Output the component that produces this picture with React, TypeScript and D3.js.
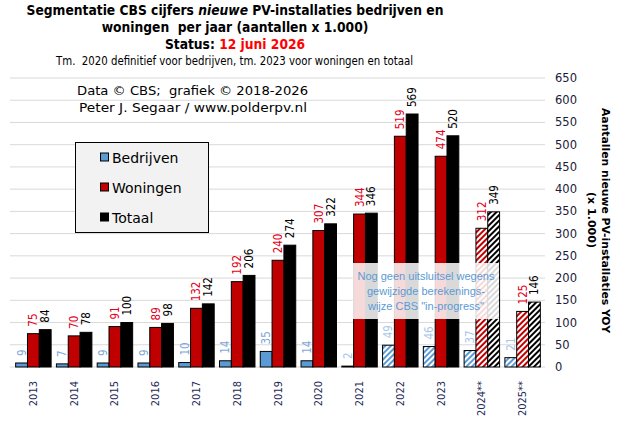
import React from "react";
import * as d3 from "d3";

const years = ["2013", "2014", "2015", "2016", "2017", "2018", "2019", "2020", "2021", "2022", "2023", "2024**", "2025**"];
const bedrijven = [9, 7, 9, 9, 10, 14, 35, 14, 2, 49, 46, 37, 21];
const woningen = [75, 70, 91, 89, 132, 192, 240, 307, 344, 519, 474, 312, 125];
const totaal = [84, 78, 100, 98, 142, 206, 274, 322, 346, 569, 520, 349, 146];
// vanaf welk jaar (index) de staaf gearceerd is (voorlopig)
const hatchFromBedrijven = 8;
const hatchFromWoningen = 11;
const yTicks = d3.range(0, 651, 50);

const W = 621;
const H = 427;

const SANS = '"DejaVu Sans", Verdana, sans-serif';
const COND = '"DejaVu Sans Condensed", "DejaVu Sans", sans-serif';

const series = [
  { key: "b", name: "Bedrijven", values: bedrijven, fill: "#5b9bd5", label: "#7ea6dc", labelHatch: "#a8c7ea", hatchFrom: hatchFromBedrijven },
  { key: "w", name: "Woningen", values: woningen, fill: "#c00000", label: "#e3001b", labelHatch: "#e3001b", hatchFrom: hatchFromWoningen },
  { key: "t", name: "Totaal", values: totaal, fill: "#000000", label: "#000000", labelHatch: "#000000", hatchFrom: hatchFromWoningen },
];

const pre = { whiteSpace: "pre" as const };

export default function App() {
  /* ───────── schalen ───────── */
  const x = d3.scaleBand<string>().domain(years).range([13, 543]).paddingInner(0.13).paddingOuter(0.065);
  const sub = d3.scaleBand<string>().domain(series.map((s) => s.key)).range([0, x.bandwidth()]);
  const y = d3.scaleLinear().domain([0, 650]).range([367, 78]);

  return (
    <svg width={W} height={H} style={{ position: "absolute", left: 0, top: 0, background: "#fff" }}>
      <defs>
        {series.map((s) => (
          <pattern key={s.key} id={`hatch-${s.key}`} patternUnits="userSpaceOnUse" width={4} height={4} patternTransform="rotate(45)">
            <rect width={4} height={4} fill="#fff" />
            <line x1={1} y1={0} x2={1} y2={4} stroke={s.fill} strokeWidth={2} />
          </pattern>
        ))}
      </defs>

      {/* rasterlijnen */}
      {yTicks.map((t) => (
        <line key={t} x1={10} x2={545} y1={y(t)} y2={y(t)} stroke="#d9d9d9" strokeWidth={1} />
      ))}

      {/* titels */}
      <text x={235} y={15} textAnchor="middle" style={pre} fontFamily={COND} fontWeight="bold" fontSize={13.7} fill="#000">
        Segmentatie CBS cijfers <tspan fontStyle="italic">nieuwe</tspan> PV-installaties bedrijven en
      </text>
      <text x={235} y={32} textAnchor="middle" style={pre} fontFamily={COND} fontWeight="bold" fontSize={13.7} fill="#000">
        woningen  per jaar (aantallen x 1.000)
      </text>
      <text x={235} y={49} textAnchor="middle" fontFamily={COND} fontWeight="bold" fontSize={13.7} fill="#000">
        Status: <tspan fill="#ff0000">12 juni 2026</tspan>
      </text>
      <text x={56} y={65} textLength={357} lengthAdjust="spacingAndGlyphs" style={pre} fontFamily={COND} fontSize={12} fill="#000">
        Tm.  2020 definitief voor bedrijven, tm. 2023 voor woningen en totaal
      </text>

      <text x={77} y={95} textLength={231} lengthAdjust="spacingAndGlyphs" style={pre} fontFamily={SANS} fontSize={12.5} fill="#000">
        Data © CBS;  grafiek © 2018-2026
      </text>
      <text x={79} y={112} textLength={228} lengthAdjust="spacingAndGlyphs" style={pre} fontFamily={SANS} fontSize={12.5} fill="#000">
        Peter J. Segaar / www.polderpv.nl
      </text>

      {/* staven */}
      {series.map((s) =>
        s.values.map((v, i) => {
          const bx = (x(years[i]) ?? 0) + (sub(s.key) ?? 0);
          const bw = sub.bandwidth();
          const hatched = i >= s.hatchFrom;
          return (
            <g key={`${s.key}-${i}`}>
              <rect
                x={bx}
                y={y(v)}
                width={bw}
                height={y(0) - y(v)}
                fill={hatched ? `url(#hatch-${s.key})` : s.fill}
                stroke="#000"
                strokeWidth={1}
              />
              <text
                transform={`translate(${bx + bw / 2},${y(v) - 7}) rotate(-90)`}
                dominantBaseline="central"
                fontFamily={COND}
                fontSize={11.5}
                fill={hatched ? s.labelHatch : s.label}
              >
                {v}
              </text>
            </g>
          );
        })
      )}

      {/* x-as labels */}
      {years.map((yr) => (
        <text
          key={yr}
          transform={`translate(${(x(yr) ?? 0) + x.bandwidth() / 2},${381}) rotate(-90)`}
          textAnchor="end"
          dominantBaseline="central"
          fontFamily={COND}
          fontSize={11}
          fill="#1f2a5a"
        >
          {yr}
        </text>
      ))}

      {/* y-as labels rechts */}
      {yTicks.map((t) => (
        <text key={t} x={555} y={y(t)} dominantBaseline="central" fontFamily={SANS} fontSize={11.5} fill="#1a1a3a">
          {t}
        </text>
      ))}
      <text
        transform="translate(606,220.5) rotate(90)"
        textAnchor="middle"
        dominantBaseline="central"
        textLength={225}
        lengthAdjust="spacingAndGlyphs"
        fontFamily={SANS}
        fontWeight="bold"
        fontSize={10.5}
        fill="#000"
      >
        Aantallen nieuwe PV-installaties YOY
      </text>
      <text
        transform="translate(592,220) rotate(90)"
        textAnchor="middle"
        dominantBaseline="central"
        textLength={56}
        lengthAdjust="spacingAndGlyphs"
        fontFamily={SANS}
        fontWeight="bold"
        fontSize={10.5}
        fill="#000"
      >
        (x 1.000)
      </text>

      {/* legenda */}
      <rect x={75.5} y={142.5} width={133} height={90} fill="#f2f2f2" stroke="#000" strokeWidth={1} />
      {series.map((s, i) => (
        <g key={s.key}>
          <rect x={100.5} y={153 + i * 30} width={8} height={8} fill={s.fill} stroke="#000" strokeWidth={1} />
          <text x={112} y={157.5 + i * 30} dominantBaseline="central" fontFamily={SANS} fontSize={14} fill="#000">
            {s.name}
          </text>
        </g>
      ))}

      {/* notitie */}
      <rect x={352.5} y={263} width={146.5} height={56} fill="#fff" fillOpacity={0.85} />
      {["Nog geen uitsluitsel wegens", "gewijzigde berekenings-", "wijze CBS \"in-progress\""].map((l, i) => (
        <text key={i} x={426} y={276 + i * 15} textAnchor="middle" dominantBaseline="central" fontFamily='"Liberation Sans", Arial, sans-serif' fontSize={11} fill="#5b9bd5">
          {l}
        </text>
      ))}
    </svg>
  );
}
